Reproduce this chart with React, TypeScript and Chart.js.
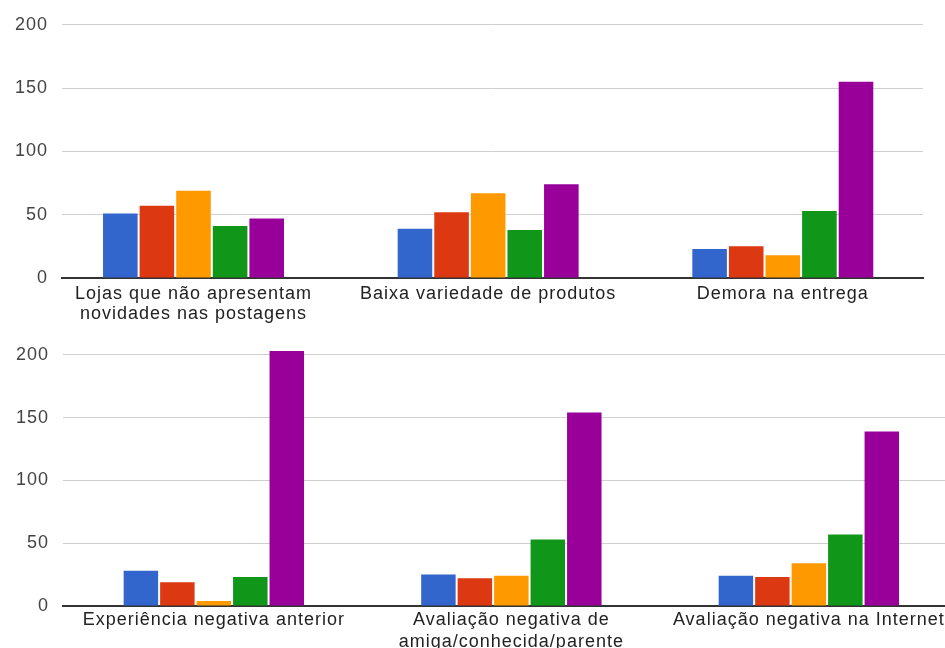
import { useEffect, useRef } from "react";
import { Chart, registerables } from "chart.js";

Chart.register(...registerables);

// Category labels (one entry per line of text)
const categories: string[][] = [
  ["Lojas que não apresentam", "novidades nas postagens"],
  ["Baixa variedade de produtos"],
  ["Demora na entrega"],
  ["Experiência negativa anterior"],
  ["Avaliação negativa de", "amiga/conhecida/parente"],
  ["Avaliação negativa na Internet"],
];

const seriesNames = ["1", "2", "3", "4", "5"];

// Answer counts per level, in category order
const level1 = [51, 39, 23, 28, 25, 24];
const level2 = [57, 52, 25, 19, 22, 23];
const level3 = [69, 67, 18, 4, 24, 34];
const level4 = [41, 38, 53, 23, 53, 57];
const level5 = [47, 74, 155, 203, 154, 139];

const yTicks = [0, 50, 100, 150, 200];

const seriesColors = ["#3366cc", "#dc3912", "#ff9900", "#109618", "#990099"];

const FONT_FAMILY = '"Liberation Sans", Arial, Helvetica, sans-serif';

const letterSpacing = {
  id: "letterSpacing",
  beforeUpdate(chart: any) {
    chart.ctx.letterSpacing = "1px";
  },
  beforeLayout(chart: any) {
    chart.ctx.letterSpacing = "1px";
  },
  beforeDraw(chart: any) {
    chart.ctx.letterSpacing = "1px";
  },
};

type RowSpec = {
  from: number;
  to: number;
  width: number;
  height: number;
  axisLeft: number;
  padTop: number;
  padRight: number;
  axisBottom: number;
  xMin: number;
  xMax: number;
  categoryPercentage: number;
  labelPadding: number;
  lineHeight: number;
};

function buildChart(canvas: HTMLCanvasElement, row: RowSpec) {
  const rowCats = categories.slice(row.from, row.to);
  const allSeries = [level1, level2, level3, level4, level5];
  const datasets = allSeries.map((s, k) => ({
    label: seriesNames[k],
    data: s.slice(row.from, row.to).map((v, i) => ({ x: i, y: v })),
    backgroundColor: seriesColors[k],
    borderWidth: 0,
    barPercentage: 0.945,
    categoryPercentage: row.categoryPercentage,
    clip: false as any,
  }));

  return new Chart(canvas, {
    type: "bar",
    data: { datasets },
    plugins: [letterSpacing],
    options: {
      animation: false,
      responsive: false,
      events: [],
      layout: {
        padding: { top: row.padTop, right: row.padRight, left: 0, bottom: 0 },
      },
      plugins: {
        legend: { display: false },
        tooltip: { enabled: false },
      },
      scales: {
        x: {
          type: "linear",
          min: row.xMin,
          max: row.xMax,
          offset: false,
          afterBuildTicks: (s: any) => {
            s.ticks = rowCats.map((_, i) => ({ value: i }));
          },
          afterFit: (s: any) => {
            s.height = row.axisBottom;
            s.paddingLeft = 0;
            s.paddingRight = 0;
          },
          grid: { display: false, drawTicks: false },
          border: { display: true, color: "#333333", width: 2 },
          ticks: {
            autoSkip: false,
            maxRotation: 0,
            minRotation: 0,
            padding: row.labelPadding,
            color: "#222222",
            font: { family: FONT_FAMILY, size: 18, lineHeight: `${row.lineHeight}px` },
            callback: (value: any) => rowCats[Math.round(Number(value))] ?? "",
          },
        },
        y: {
          min: 0,
          max: 200,
          afterBuildTicks: (s: any) => {
            s.ticks = yTicks.map((v) => ({ value: v }));
          },
          afterFit: (s: any) => {
            s.width = row.axisLeft;
          },
          grid: {
            drawTicks: false,
            lineWidth: 1,
            color: (c: any) => (c.tick && c.tick.value === 0 ? "rgba(0,0,0,0)" : "#cfcfcf"),
          },
          border: { display: false },
          ticks: {
            padding: 14,
            color: "#444444",
            font: { family: FONT_FAMILY, size: 18 },
          },
        },
      },
    } as any,
  });
}

const topRow: RowSpec = {
  from: 0,
  to: 3,
  width: 945,
  height: 330,
  axisLeft: 62,
  padTop: 22,
  padRight: 22,
  axisBottom: 52,
  xMin: -0.4463,
  xMax: 2.4758,
  categoryPercentage: 0.621,
  labelPadding: 6,
  lineHeight: 20,
};

const bottomRow: RowSpec = {
  from: 3,
  to: 6,
  width: 945,
  height: 318,
  axisLeft: 63,
  padTop: 19,
  padRight: 0,
  axisBottom: 42,
  xMin: -0.507,
  xMax: 2.4576,
  categoryPercentage: 0.613,
  labelPadding: 3,
  lineHeight: 22,
};

export default function App() {
  const topRef = useRef<HTMLCanvasElement | null>(null);
  const bottomRef = useRef<HTMLCanvasElement | null>(null);

  useEffect(() => {
    const charts: Chart[] = [];
    if (topRef.current) charts.push(buildChart(topRef.current, topRow));
    if (bottomRef.current) charts.push(buildChart(bottomRef.current, bottomRow));
    return () => charts.forEach((c) => c.destroy());
  }, []);

  return (
    <div
      style={{
        position: "absolute",
        left: 0,
        top: 0,
        width: 945,
        height: 648,
        background: "#ffffff",
        overflow: "hidden",
      }}
    >
      <canvas
        ref={topRef}
        width={topRow.width}
        height={topRow.height}
        style={{ position: "absolute", left: 0, top: 0, display: "block" }}
      />
      <canvas
        ref={bottomRef}
        width={bottomRow.width}
        height={bottomRow.height}
        style={{ position: "absolute", left: 0, top: 330, display: "block" }}
      />
    </div>
  );
}
